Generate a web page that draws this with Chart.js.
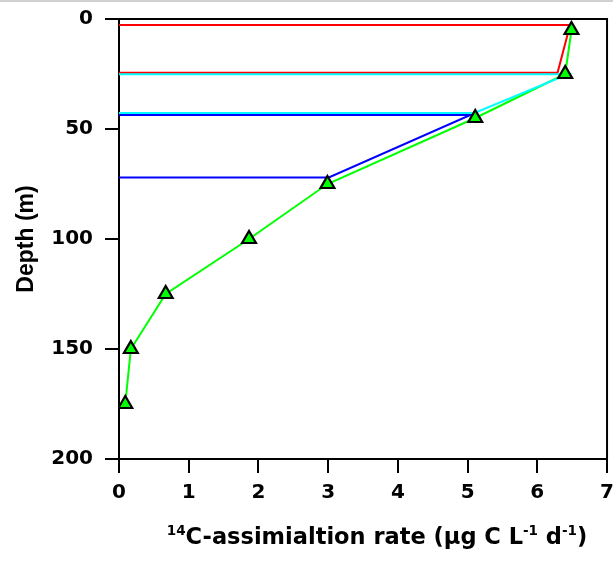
<!DOCTYPE html>
<html>
<head>
<meta charset="utf-8">
<script src="https://cdn.jsdelivr.net/npm/chart.js@4.4.0/dist/chart.umd.min.js"></script>
<style>
  html, body { margin: 0; padding: 0; background: #fff; overflow: hidden; }
  #wrap { width: 613px; height: 564px; position: relative; overflow: hidden; }
  #myChart { position: absolute; left: 0; top: -5px; }
  #edge { position: absolute; left: 0; top: 0; width: 613px; height: 2px; background: #d0d0d0; }
</style>
</head>
<body>
<div id="wrap"><canvas id="myChart" width="622" height="569"></canvas><div id="edge"></div></div>
<script>
// measured profile (depth in m, rate in ug C L-1 d-1)
var depth = [5, 25, 45, 75, 100, 125, 150, 175];
var rate = [6.49, 6.4, 5.11, 2.99, 1.865, 0.67, 0.17, 0.09];

// integration layers
var redX = [0, 6.47, 6.29, 0];
var redY = [2.7, 2.7, 24.4, 24.4];
var cyanX = [0, 6.44, 5.1, 0];
var cyanY = [25.1, 25.1, 42.7, 42.7];
var blueX = [0, 5.04, 3.01, 0];
var blueY = [43.6, 43.6, 72, 72];

var xTicks = [0, 1, 2, 3, 4, 5, 6, 7];
var yTicks = [0, 50, 100, 150, 200];

var tickFont = { family: '"DejaVu Sans", sans-serif', size: 20, weight: 'bold' };

function pts(xs, ys) {
    return xs.map(function(v, i) { return {x: v, y: ys[i]}; });
}

var frame = {
    id: 'frame',
    afterDraw: function(chart) {
        var c = chart.ctx, a = chart.chartArea;
        c.save();
        c.strokeStyle = '#000';
        c.lineWidth = 2;
        c.beginPath();
        c.moveTo(a.left, a.top); c.lineTo(a.right, a.top); c.lineTo(a.right, a.bottom);
        c.stroke();
        // x title with superscripts
        var parts = [['14', true], ['C-assimialtion rate (\u03bcg C L', false], ['-1', true], [' d', false], ['-1', true], [')', false]];
        var big = 'bold 22.5px "DejaVu Sans", sans-serif';
        var small = 'bold 13.5px "DejaVu Sans", sans-serif';
        var w = 0;
        parts.forEach(function(p) { c.font = p[1] ? small : big; w += c.measureText(p[0]).width; });
        var x = 377 - w / 2, base = 549;
        c.fillStyle = '#000';
        c.textBaseline = 'alphabetic';
        parts.forEach(function(p) {
            c.font = p[1] ? small : big;
            c.fillText(p[0], x, p[1] ? base - 9 : base);
            x += c.measureText(p[0]).width;
        });
        c.restore();
    }
};

var ctx = document.getElementById('myChart').getContext('2d');
var myChart = new Chart(ctx, {
    type: 'scatter',
    data: {
        datasets: [{
            label: 'samples',
            data: pts(rate, depth),
            showLine: false,
            pointStyle: 'triangle',
            pointRadius: 8,
            pointBackgroundColor: '#00ff00',
            pointBorderColor: '#000',
            pointBorderWidth: 2.2
        },
        {
            label: 'blue',
            data: pts(blueX, blueY),
            showLine: true,
            borderColor: '#0000ff',
            borderWidth: 2,
            pointRadius: 0
        },
        {
            label: 'cyan',
            data: pts(cyanX, cyanY),
            showLine: true,
            borderColor: '#00ffff',
            borderWidth: 2,
            pointRadius: 0
        },
        {
            label: 'red',
            data: pts(redX, redY),
            showLine: true,
            borderColor: '#ff0000',
            borderWidth: 2,
            pointRadius: 0
        },
        {
            label: 'profile',
            data: pts(rate, depth),
            showLine: true,
            borderColor: '#00ff00',
            borderWidth: 2,
            pointRadius: 0
        }]
    },
    options: {
        responsive: false,
        animation: false,
        layout: { padding: 0 },
        plugins: { legend: { display: false }, tooltip: { enabled: false } },
        scales: {
            x: {
                type: 'linear',
                min: 0,
                max: 7,
                afterBuildTicks: function(s) { s.ticks = xTicks.map(function(v) { return {value: v}; }); },
                afterFit: function(s) { s.height = 105; },
                grid: { drawOnChartArea: false, tickLength: 14, color: '#000', lineWidth: 2 },
                border: { color: '#000', width: 2 },
                ticks: { color: '#000', padding: 8, font: tickFont }
            },
            y: {
                type: 'linear',
                reverse: true,
                min: 0,
                max: 200,
                afterBuildTicks: function(s) { s.ticks = yTicks.map(function(v) { return {value: v}; }); },
                afterFit: function(s) { s.width = 119; },
                grid: { drawOnChartArea: false, tickLength: 14, color: '#000', lineWidth: 2 },
                border: { color: '#000', width: 2 },
                ticks: { color: '#000', padding: 12, font: tickFont },
                title: { display: true, text: 'Depth (m)', color: '#000', padding: { top: 13, bottom: 0 }, font: { family: '"Liberation Sans", Arial, sans-serif', size: 23, weight: 'bold' } }
            }
        }
    },
    plugins: [frame]
});
</script>
</body>
</html>
